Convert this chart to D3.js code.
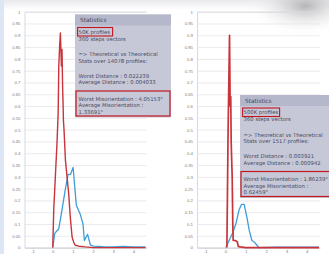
<!DOCTYPE html>
<html lang="en">
<head>
<meta charset="UTF-8">
<title>Misorientation distributions</title>
<script src="https://d3js.org/d3.v7.min.js"></script>
<style>
    body { margin: 0; background: #fff; }
    svg { display: block; font-family: "DejaVu Sans", sans-serif; }
    .grid line { stroke: #e2e2e7; stroke-width: 0.7; }
    .grid .domain { stroke: #cfd0d6; stroke-width: 0.8; }
    .tick text { fill: #7a7a80; font-size: 4.3px; }
    .xax line { stroke: #c9cad2; stroke-width: 0.6; }
    .xax .domain { stroke: #c9cad2; stroke-width: 0.8; }
    .panel text { fill: #464961; font-size: 5.3px; }
</style>
</head>
<body>
<svg id="chart" width="329" height="254"></svg>
<script>
    // y axis labels (0 .. 1 step 0.05) and x labels
    const yTickLabels = ["0","0.05","0.1","0.15","0.2","0.25","0.3","0.35","0.4","0.45","0.5",
                         "0.55","0.6","0.65","0.7","0.75","0.8","0.85","0.9","0.95","1"];
    const xTickLabels = ["-1","0","1","2","3","4"];

    // left chart: 50K profiles
    const leftRedX = [0, 0.05, 0.13, 0.21, 0.27, 0.3, 0.34, 0.38, 0.42, 0.43, 0.46, 0.49, 0.51, 0.53, 0.56, 0.63, 0.71, 0.79, 0.87, 0.96, 1.05, 1.12, 1.3, 1.6, 2.0, 4.6];
    const leftRedY = [0, 0.16, 0.3, 0.44, 0.57, 0.77, 0.85, 0.91, 0.8, 0.77, 0.84, 0.68, 0.62, 0.54, 0.5, 0.37, 0.3, 0.23, 0.13, 0.045, 0.02, 0.01, 0.006, 0.003, 0, 0];
    const leftBlueX = [0, 0.1, 0.3, 0.46, 0.63, 0.76, 0.88, 1.01, 1.17, 1.37, 1.5, 1.57, 1.73, 1.87, 2.03, 2.5, 3, 3.5, 4, 4.6];
    const leftBlueY = [0, 0.06, 0.08, 0.16, 0.25, 0.31, 0.31, 0.34, 0.18, 0.14, 0.10, 0.03, 0.056, 0.01, 0.006, 0.004, 0.003, 0.005, 0.003, 0.003];

    // right chart: 500K profiles
    const rightRedX = [0.07, 0.13, 0.2, 0.23, 0.26, 0.28, 0.33, 0.36, 0.38, 0.48, 0.58, 0.63, 0.72, 1.0, 4.6];
    const rightRedY = [0, 0.5, 0.9, 0.6, 0.64, 0.45, 0.3, 0.1, 0.03, 0.03, 0.025, 0.005, 0.003, 0, 0];
    const rightBlueX = [0.02, 0.34, 0.51, 0.67, 0.79, 0.92, 1.05, 1.17, 1.3, 1.41, 1.55, 1.66, 2.5, 4.6];
    const rightBlueY = [0, 0.06, 0.1, 0.16, 0.183, 0.183, 0.13, 0.073, 0.03, 0.024, 0.01, 0, 0.002, 0.002];

    const leftStats = ["50K profiles", "360 steps vectors", "=> Theoretical vs Theoretical", "Stats over 14078 profiles:",
                       "Worst Distance : 0.022239", "Average Distance : 0.004033",
                       "Worst Misorientation : 4.05153°", "Average Misorientation :", "1.33691°"];
    const rightStats = ["500K profiles", "360 steps vectors", "=> Theoretical vs Theoretical", "Stats over 1517 profiles:",
                        "Worst Distance : 0.003921", "Average Distance : 0.000942",
                        "Worst Misorientation : 1.86239°", "Average Misorientation :", "0.62459°"];

    const svg = d3.select("#chart");
    const defs = svg.append("defs");

    // background shading of the screenshot
    const rg = defs.append("radialGradient").attr("id", "shade");
    rg.append("stop").attr("offset", "0%").attr("stop-color", "#a9a9ad").attr("stop-opacity", 0.85);
    rg.append("stop").attr("offset", "100%").attr("stop-color", "#ffffff").attr("stop-opacity", 0);
    const lg = defs.append("linearGradient").attr("id", "topband").attr("x1", 0).attr("y1", 0).attr("x2", 0).attr("y2", 1);
    lg.append("stop").attr("offset", "0%").attr("stop-color", "#e9e9ec");
    lg.append("stop").attr("offset", "100%").attr("stop-color", "#ffffff");

    svg.append("rect").attr("width", 329).attr("height", 10).attr("fill", "url(#topband)");
    svg.append("ellipse").attr("cx", 305).attr("cy", 6).attr("rx", 60).attr("ry", 30).attr("fill", "url(#shade)");
    svg.append("rect").attr("x", 0).attr("y", 0).attr("width", 4).attr("height", 254).attr("fill", "#dde6f4");

    const yVals = yTickLabels.map(Number);
    const xVals = xTickLabels.map(Number);

    function drawChart(x0, x1, redX, redY, blueX, blueY, redW) {
        const x = d3.scaleLinear().domain([-1.4, 4.65]).range([x0, x1]);
        const y = d3.scaleLinear().domain([0, 1]).range([247.6, 11.7]);
        const g = svg.append("g");

        g.append("g").attr("class", "grid")
            .attr("transform", `translate(${x0},0)`)
            .call(d3.axisLeft(y).tickValues(yVals).tickSize(-(x1 - x0)).tickPadding(4)
                .tickFormat((d, i) => yTickLabels[i]))
            .call(a => a.selectAll(".tick line").filter(d => d === 0).remove());

        g.append("g").attr("class", "xax")
            .attr("transform", "translate(0,247.6)")
            .call(d3.axisBottom(x).tickValues(xVals).tickSize(1.5).tickSizeOuter(0).tickPadding(1)
                .tickFormat((d, i) => xTickLabels[i]));

        const line = d3.line().x(d => x(d[0])).y(d => y(d[1]));
        g.append("path").datum(d3.zip(blueX, blueY))
            .attr("d", line).attr("fill", "none").attr("stroke", "#3f9dd6").attr("stroke-width", 1.3)
            .attr("stroke-linejoin", "round");
        g.append("path").datum(d3.zip(redX, redY))
            .attr("d", line).attr("fill", "none").attr("stroke", "#c8343a").attr("stroke-width", redW)
            .attr("stroke-linejoin", "round");
    }

    drawChart(24.5, 146.5, leftRedX, leftRedY, leftBlueX, leftBlueY, 1.4);
    drawChart(197, 320, rightRedX, rightRedY, rightBlueX, rightBlueY, 1.7);

    function drawPanel(px, py, lines, boxW) {
        const p = svg.append("g").attr("class", "panel").attr("transform", `translate(${px},${py})`);
        p.append("rect").attr("width", 96).attr("height", 103).attr("fill", "#c6c8d7");
        p.append("rect").attr("width", 96).attr("height", 11).attr("fill", "#b5b8ca");
        p.append("text").attr("x", 5).attr("y", 7.5).style("font-size", "5.8px").text("Statistics");

        const rows = [17, 24, 39.5, 46, 61, 67.5, 84, 90.5, 97];
        lines.forEach((t, i) => {
            p.append("text").attr("x", 3.6).attr("y", rows[i] + 2).text(t);
        });
        p.append("rect").attr("x", 2.6).attr("y", 13).attr("width", boxW).attr("height", 8.5)
            .attr("fill", "none").attr("stroke", "#c4161f").attr("stroke-width", 1.1);
        p.append("rect").attr("x", 1).attr("y", 76.5).attr("width", 94).attr("height", 25)
            .attr("fill", "none").attr("stroke", "#c4161f").attr("stroke-width", 1.2);
    }

    drawPanel(75, 14.5, leftStats, 35);
    drawPanel(240, 95, rightStats, 37);
</script>
</body>
</html>
